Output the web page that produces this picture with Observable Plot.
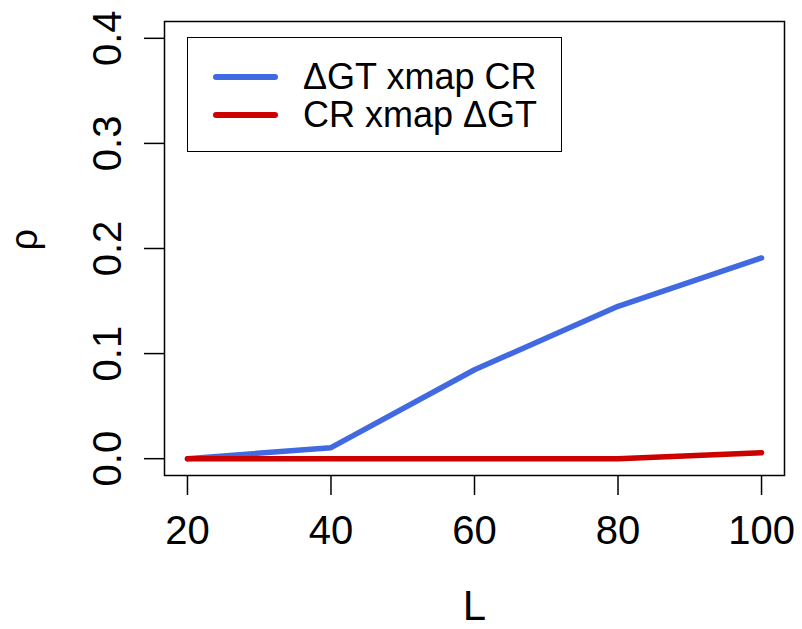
<!DOCTYPE html>
<html>
<head>
<meta charset="utf-8">
<script src="https://cdn.jsdelivr.net/npm/d3@7"></script>
<script src="https://cdn.jsdelivr.net/npm/@observablehq/plot@0.6"></script>
<style>
  html, body { margin: 0; padding: 0; background: #fff; }
  #wrap { position: relative; width: 802px; height: 629px; font-family: "Liberation Sans", Arial, Helvetica, sans-serif; }
  #legend { position: absolute; left: 187px; top: 37px; width: 373px; height: 113px; border: 1.5px solid #000; background: #fff; }
  .row { position: absolute; left: 0; height: 38px; }
  .sw { position: absolute; left: 25px; width: 65px; height: 6px; border-radius: 3px; }
  .lab { position: absolute; left: 115px; font-size: 36px; line-height: 38px; white-space: nowrap; color: #000; }
</style>
</head>
<body>
<div id="wrap"></div>
<script>
const L = [20, 40, 60, 80, 100];
const seriesNames = ["\u0394GT xmap CR", "CR xmap \u0394GT"];
const gtXmapCR = [0.0, 0.0105, 0.0846, 0.145, 0.191];
const crXmapGT = [0.0, 0.0, 0.0, 0.0, 0.0057];
const seriesColors = ["#4169E1", "#CD0000"];
const xTicks = [20, 40, 60, 80, 100];
const yTicks = [0.0, 0.1, 0.2, 0.3, 0.4];

const data = [
  ...L.map((l, i) => ({L: l, rho: gtXmapCR[i], s: seriesNames[0]})),
  ...L.map((l, i) => ({L: l, rho: crXmapGT[i], s: seriesNames[1]}))
];

const chart = Plot.plot({
  width: 802,
  height: 629,
  marginLeft: 164,
  marginRight: 18,
  marginTop: 21,
  marginBottom: 154,
  style: {fontFamily: '"Liberation Sans", Arial, Helvetica, sans-serif', background: "#fff", color: "#000"},
  x: {domain: [16.8, 103.2]},
  y: {domain: [-0.016, 0.416]},
  color: {domain: seriesNames, range: seriesColors},
  marks: [
    Plot.frame({stroke: "#000", strokeWidth: 1.5}),
    Plot.axisX({ticks: xTicks, tickSize: 20, tickPadding: 20, fontSize: 40, tickFormat: d => String(d), label: null, strokeWidth: 1.5}),
    Plot.axisY({ticks: yTicks, tickSize: 20, tickPadding: 24, tickRotate: -90, fontSize: 40, tickFormat: d => d.toFixed(1), label: null, strokeWidth: 1.5}),
    Plot.line(data, {x: "L", y: "rho", z: "s", stroke: "s", strokeWidth: 5.5, strokeLinecap: "round", strokeLinejoin: "round"}),
    Plot.text(["L"], {frameAnchor: "bottom", dy: 131, lineAnchor: "middle", fontSize: 42, fill: "#000"}),
    Plot.text(["\u03C1"], {frameAnchor: "left", dx: -140, dy: 2, lineAnchor: "middle", rotate: -90, fontSize: 38, fill: "#000"})
  ]
});

const wrap = document.getElementById("wrap");
wrap.appendChild(chart);

const legend = document.createElement("div");
legend.id = "legend";
seriesNames.forEach((name, i) => {
  const row = document.createElement("div");
  row.className = "row";
  row.style.top = (20 + i * 38) + "px";
  const sw = document.createElement("div");
  sw.className = "sw";
  sw.style.top = "16px";
  sw.style.background = seriesColors[i];
  const lab = document.createElement("div");
  lab.className = "lab";
  lab.style.top = "0px";
  lab.textContent = name;
  row.appendChild(sw);
  row.appendChild(lab);
  legend.appendChild(row);
});
wrap.appendChild(legend);
</script>
</body>
</html>
